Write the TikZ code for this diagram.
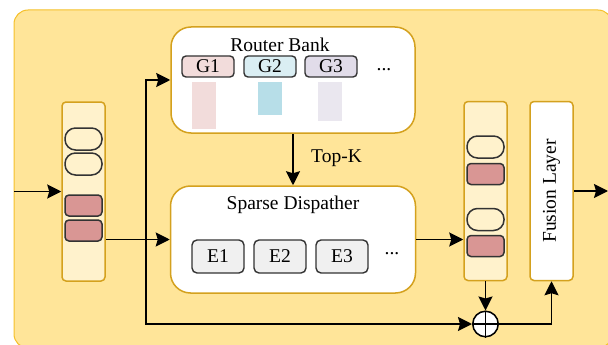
\documentclass[tikz,border=0pt]{standalone}
\usepackage{fontspec}
\setmainfont{Liberation Serif}
\usetikzlibrary{arrows.meta,calc}
\definecolor{outerfill}{HTML}{FFE599}
\definecolor{outerline}{HTML}{F5C02A}
\definecolor{goldline}{HTML}{D4A11E}
\definecolor{colfill}{HTML}{FFF2CC}
\definecolor{tokline}{HTML}{333333}
\definecolor{pinktok}{HTML}{D99694}
\definecolor{gonefill}{HTML}{F2DCDB}
\definecolor{gtwofill}{HTML}{DAEEF3}
\definecolor{gthreefill}{HTML}{E1DCE9}
\definecolor{barone}{HTML}{F2DCDB}
\definecolor{bartwo}{HTML}{B7DEE8}
\definecolor{barthree}{HTML}{EAE7EF}
\definecolor{efill}{HTML}{F0F0F0}
\begin{document}
\begin{tikzpicture}[x=1pt,y=-1pt,
  every node/.style={font=\fontsize{19.5}{22}\selectfont, inner sep=0pt},
  bigbox/.style={draw=goldline, line width=1.5pt, fill=white, rounded corners=20pt},
  colbox/.style={draw=goldline, line width=1.5pt, fill=colfill, rounded corners=4pt, minimum width=43pt, minimum height=179pt},
  whitecol/.style={draw=goldline, line width=1.5pt, fill=white, rounded corners=4pt, minimum width=43pt, minimum height=179pt},
  ovaltok/.style={draw=tokline, line width=1.5pt, rounded corners=10.5pt, minimum width=37pt, minimum height=22pt},
  pinktokst/.style={draw=tokline, line width=1.5pt, fill=pinktok, rounded corners=4pt, minimum width=37pt, minimum height=21pt},
  gatebox/.style={draw=tokline, line width=1.4pt, rounded corners=4pt, minimum width=52pt, minimum height=21pt},
  expbox/.style={draw=tokline, line width=1.4pt, fill=efill, rounded corners=5pt, minimum width=52pt, minimum height=33pt},
  arr/.style={line width=1.8pt, -{Stealth[length=14pt,width=14pt,inset=2pt]}},
  ln/.style={line width=1.8pt}]
\useasboundingbox (0,0) rectangle (608,345);
% outer panel
\draw[fill=outerfill, draw=outerline, line width=1pt, rounded corners=14pt] (14,10) rectangle (612,348);

% Router bank
\node[bigbox, minimum width=244pt, minimum height=106pt] (router) at (293,80) {};
\node (rlabel) at (280,45) {Router Bank};
\node[gatebox, fill=gonefill] (g1) at (208,66.5) {G1};
\node[gatebox, fill=gtwofill] (g2) at (270,66.5) {G2};
\node[gatebox, fill=gthreefill] (g3) at (331,66.5) {G3};
\node (gdots) at (384,70) {...};
\fill[barone] (192,82) rectangle (216,129);
\fill[bartwo] (258,82) rectangle (282,115);
\fill[barthree] (318,82) rectangle (342,121);

% Sparse dispatcher
\node[bigbox, minimum width=245pt, minimum height=107pt] (disp) at (293,239.5) {};
\node (dlabel) at (293,205) {Sparse Dispather};
\node[expbox] (e1) at (218,256.5) {E1};
\node[expbox] (e2) at (280,256.5) {E2};
\node[expbox] (e3) at (342,256.5) {E3};
\node (edots) at (392,254) {...};

% left column
\node[colbox] (lcol) at (83.5,191.5) {};
\node[ovaltok] (lo1) at (83.5,139) {};
\node[ovaltok] (lo2) at (83.5,164) {};
\node[pinktokst] (lp1) at (83.5,205.5) {};
\node[pinktokst] (lp2) at (83.5,230.5) {};

% right column
\node[colbox] (rcol) at (485.5,191) {};
\node[ovaltok] (ro1) at (485.5,147) {};
\node[pinktokst] (rp1) at (485.5,174) {};
\node[ovaltok] (ro2) at (485.5,219.5) {};
\node[pinktokst] (rp2) at (485.5,246) {};

% fusion layer
\node[whitecol] (fusion) at (551.5,191) {};
\node[rotate=90] (flabel) at (551.5,191) {Fusion Layer};

% add
\node[circle, draw=black, line width=1.5pt, fill=white, minimum size=25.5pt] (plus) at (485.5,324) {};
\draw[line width=1.5pt] (plus.north) -- (plus.south) (plus.west) -- (plus.east);

% connectors
\coordinate (in) at (14,191.5);
\coordinate (out) at (608,191);
\coordinate (br) at (146,240);
\draw[arr] (in) -- (lcol.west);
\draw[arr] (lcol.east |- disp.west) -- (disp.west);
\draw[arr] (br) |- (router.west);
\draw[arr] (br) |- (plus.west);
\draw[arr] (router.south) -- (router.south |- disp.north);
\node[anchor=west] (topk) at (311,158) {Top-K};
\draw[arr] (disp.east) -- (disp.east -| rcol.west);
\draw[arr] (rcol.south) -- (plus.north);
\draw[arr] (plus.east) -| (fusion.south);
\draw[arr] (fusion.east) -- (out);
\end{tikzpicture}
\end{document}
